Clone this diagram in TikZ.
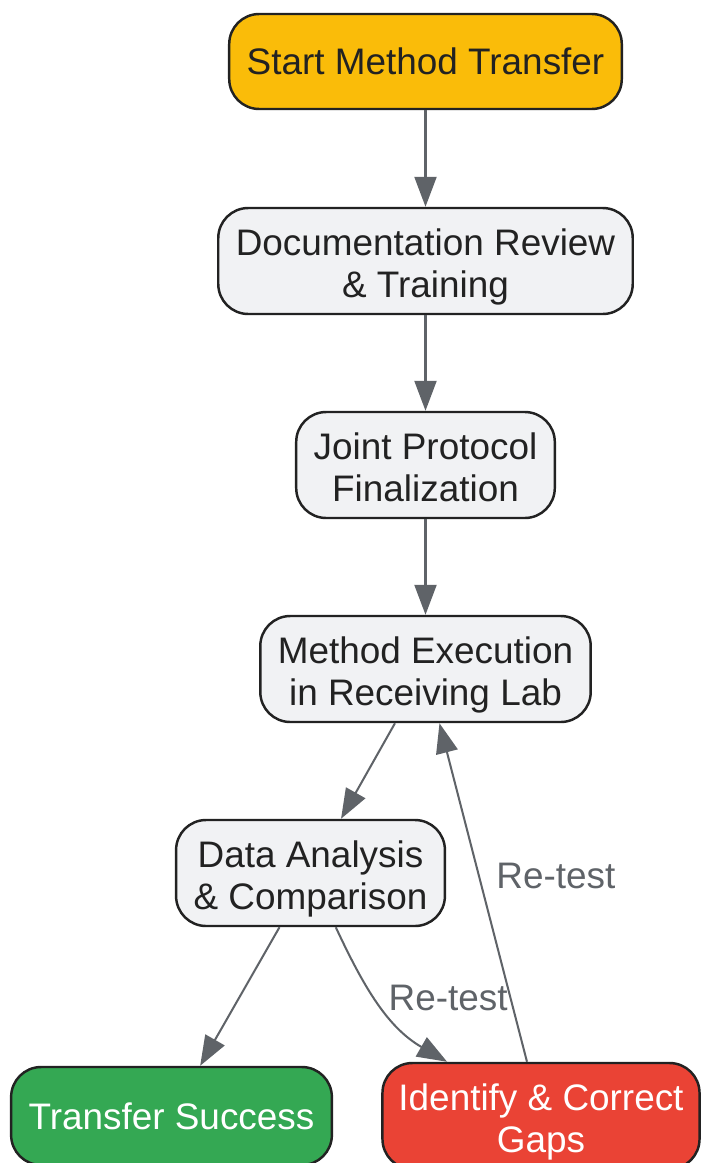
\documentclass[tikz,border=0pt]{standalone}
\usepackage{fontspec}
\setmainfont{Liberation Sans}
\usepackage{tkz-euclide}
\usetikzlibrary{arrows.meta}
\definecolor{startyellow}{HTML}{FABC09}
\definecolor{boxgray}{HTML}{F1F2F4}
\definecolor{okgreen}{HTML}{34A853}
\definecolor{gapred}{HTML}{EA4335}
\definecolor{edgedark}{HTML}{222222}
\definecolor{arrowgray}{HTML}{5F6368}

\begin{document}
\begin{tikzpicture}[
                box/.style={draw=edgedark, line width=1.4pt, rounded corners=0.6cm, fill=boxgray, text=edgedark, align=center, inner xsep=0.35cm, inner ysep=0pt, minimum height=2.12cm, font=\fontsize{21}{23.9}\selectfont},
                twoline/.style={box, text height=1.62cm, text depth=0.155cm},
                flow/.style={draw=arrowgray, line width=1.15pt, -{Triangle[length=17pt,width=12.5pt]}},
                lbl/.style={text=arrowgray, inner sep=0.05cm, font=\fontsize{21}{23.9}\selectfont}]
                \tkzDefPoints{8.51/-1.23/s,8.51/-5.22/d,8.51/-9.30/j,8.51/-13.38/m,6.21/-17.46/a,3.43/-22.32/t,10.82/-22.32/g}
                \useasboundingbox (0,0) rectangle (14.02,-23.26);
                \node[box, fill=startyellow, minimum height=1.9cm] (S) at (s) {Start Method Transfer};
                \node[twoline] (D) at (d) {Documentation Review\\ \& Training};
                \node[twoline] (J) at (j) {Joint Protocol\\ Finalization};
                \node[twoline] (M) at (m) {Method Execution\\ in Receiving Lab};
                \node[twoline] (A) at (a) {Data Analysis\\ \& Comparison};
                \node[box, fill=okgreen, text=white, minimum height=1.96cm] (T) at (t) {Transfer Success};
                \node[twoline, fill=gapred, text=white, inner xsep=0.32cm] (G) at (g) {Identify \& Correct\\ Gaps};
                \draw[flow] (S) -- (D);
                \draw[flow] (D) -- (J);
                \draw[flow] (J) -- (M);
                \draw[flow] (M) -- (A);
                \draw[flow] (A) -- (T);
                \draw[flow] (A) to[out=-65,in=150] node[lbl, pos=0.5, anchor=west, xshift=0.1cm, yshift=0.14cm] {Re-test} (G);
                \draw[flow] (G) -- node[lbl, pos=0.55, anchor=west, xshift=0.28cm] {Re-test} (M);
            \end{tikzpicture}
\end{document}
